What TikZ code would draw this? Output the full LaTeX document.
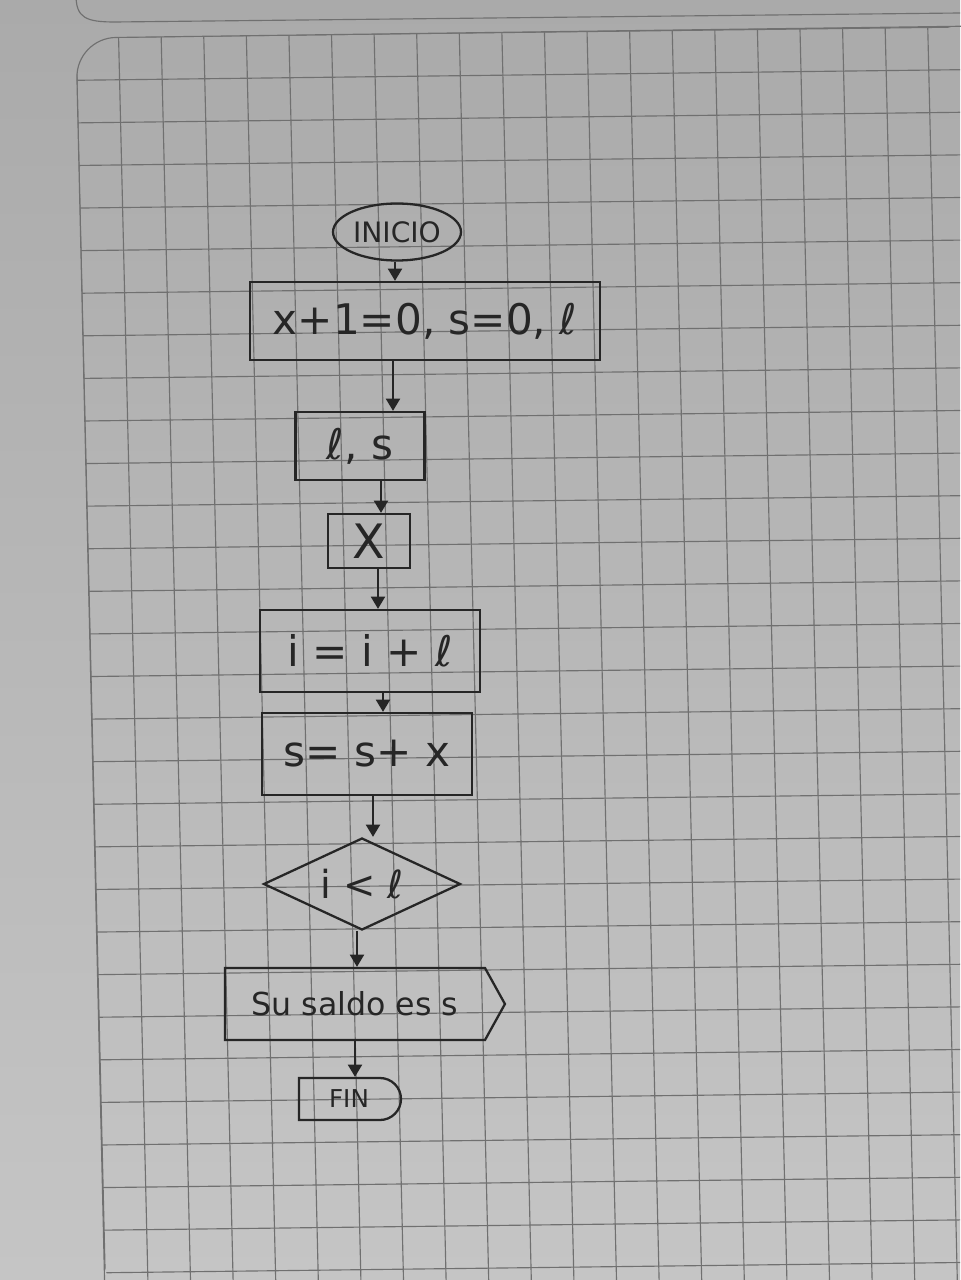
\documentclass[tikz,border=0pt]{standalone}
\usepackage{fontspec}
\setmainfont{DejaVu Sans}
\usetikzlibrary{shapes.geometric,shapes.symbols,shapes.misc,arrows.meta}
\definecolor{inkc}{HTML}{262626}
\definecolor{gridc}{HTML}{707070}
\definecolor{bgtop}{HTML}{AAAAAA}
\definecolor{bgbot}{HTML}{C5C5C5}
\begin{document}
\begin{tikzpicture}[x=0.02cm,y=-0.02cm,
  ink/.style={draw=inkc,line width=1.3pt,text=inkc,inner sep=0pt},
  box/.style={ink,rectangle,font=\fontsize{24}{28}\selectfont},
  arr/.style={draw=inkc,line width=1.3pt,-{Triangle[length=7pt,width=8pt]}},
  gridl/.style={draw=gridc,line width=0.65pt}]
\useasboundingbox (0,0) rectangle (960,1280);
% paper
\fill[top color=bgtop,bottom color=bgbot] (0,0) rectangle (960,1280);
\begin{scope}
  \clip[rounded corners=0.8cm] (105,1300) -- (76,38) -- (980,26) -- (980,1300) -- cycle;
  \foreach \k in {0,...,21}{
    \pgfmathsetmacro{\xa}{77+42.6*\k-1.9}
    \pgfmathsetmacro{\xb}{77+42.6*\k+28.3}
    \draw[gridl] (\xa,0) -- (\xb,1280);
  }
  \foreach \k in {-1,...,29}{
    \pgfmathsetmacro{\ya}{81.2+42.6*\k}
    \pgfmathsetmacro{\yb}{81.2+42.6*\k-11.5}
    \draw[gridl] (0,\ya) -- (960,\yb);
  }
\end{scope}
\draw[gridl,rounded corners=0.8cm] (105,1300) -- (76,38) -- (980,26);
\draw[gridl] (76,-5) .. controls (76,18) and (86,22) .. (115,22) -- (960,13);
% nodes
\node[ink,ellipse,minimum width=2.56cm,minimum height=1.14cm,font=\fontsize{16}{18}\selectfont] (ini) at (397,232) {INICIO};
\node[box,minimum width=7cm,minimum height=1.56cm] (b1) at (425,321) {x+1=0, s=0, ℓ};
\node[box,minimum width=2.58cm,minimum height=1.36cm] (b2) at (360,446) {ℓ, s};
\node[box,minimum width=1.64cm,minimum height=1.08cm,font=\fontsize{27}{30}\selectfont] (b3) at (369,541) {X};
\node[box,minimum width=4.4cm,minimum height=1.64cm] (b4) at (370,651) {i = i + ℓ};
\node[box,minimum width=4.2cm,minimum height=1.64cm] (b5) at (367,754) {s= s+ x};
\node[ink,diamond,aspect=2.14,minimum width=3.94cm,minimum height=1.84cm,font=\fontsize{22}{24}\selectfont] (d) at (362,884) {i < ℓ};
\node[ink,signal,signal to=east,signal pointer angle=122,minimum width=5.6cm,minimum height=1.44cm,font=\fontsize{18}{20}\selectfont] (out) at (355,1004) {Su saldo es s};
\node[ink,rounded rectangle,rounded rectangle left arc=none,minimum width=2.04cm,minimum height=0.84cm,font=\fontsize{14}{16}\selectfont] (fin) at (349,1099) {FIN};
% arrow columns
\coordinate (c1) at (395,0);
\coordinate (c2) at (393,0);
\coordinate (c3) at (381,0);
\coordinate (c4) at (378,0);
\coordinate (c5) at (383,0);
\coordinate (c6) at (373,0);
\coordinate (c7) at (357,0);
\coordinate (c8) at (355,0);
\draw[arr] (ini.south -| c1) -- (b1.north -| c1);
\draw[arr] (b1.south -| c2) -- (b2.north -| c2);
\draw[arr] (b2.south -| c3) -- (b3.north -| c3);
\draw[arr] (b3.south -| c4) -- (b4.north -| c4);
\draw[arr] (b4.south -| c5) -- (b5.north -| c5);
\draw[arr] (b5.south -| c6) -- (d.north -| c6);
\draw[arr] (d.south -| c7) -- (out.north -| c7);
\draw[arr] (out.south -| c8) -- (fin.north -| c8);
\end{tikzpicture}
\end{document}
